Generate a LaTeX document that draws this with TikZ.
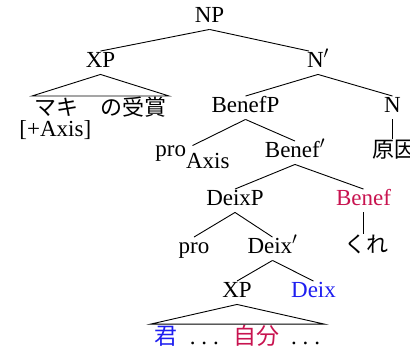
\documentclass[tikz,border=0pt]{standalone}
\usepackage{fontspec}
\setmainfont{Liberation Serif}
\newfontfamily\jafont{Noto Sans CJK JP}
\definecolor{benefred}{RGB}{200,20,80}
\definecolor{deixblue}{RGB}{30,30,240}
\newcommand{\ddd}{.\kern6pt.\kern6pt.}

\begin{document}
\begin{tikzpicture}[x=1pt,y=-1pt,line width=0.9pt,font=\fontsize{23}{27}\selectfont,
  lbl/.style={inner sep=1pt,text height=15.5pt,text depth=5pt,anchor=base},
  ja/.style={inner sep=1pt,anchor=base,font=\fontsize{22}{26}\selectfont\jafont}]

\clip (0,0) rectangle (410,352);

\node[lbl] (np) at (209.5,23) {NP};
\node[lbl] (xpa) at (100.5,68) {XP};
\node[lbl] (nbar) at (318,68) {N$'$};
\node[lbl] (benefp) at (245.5,113) {BenefP};
\node[lbl] (n) at (392.5,113) {N};
\node[ja,inner xsep=2pt] (maki) at (100.5,116) {マキ　の受賞};
\node[lbl,anchor=base west] (axis) at (18,137) {[+Axis]};
\node[lbl,text height=10pt] (proaxis) at (192.5,157) {pro\raisebox{-12pt}{Axis}};
\node[lbl] (benefbar) at (295,158) {Benef$'$};
\node[ja] (gen) at (394,158) {原因};
\node[lbl] (deixp) at (235,206) {DeixP};
\node[lbl,text=benefred] (benef) at (363.5,206) {Benef};
\node[lbl] (pro) at (194,254) {pro};
\node[lbl] (deixbar) at (272.5,254) {Deix$'$};
\node[ja] (kure) at (366,253) {くれ};
\node[lbl] (xpb) at (237,298) {XP};
\node[lbl,text=deixblue] (deix) at (313.5,298) {Deix};
\node[inner xsep=4pt,inner ysep=1pt,anchor=base] (kimi) at (237.5,345)
  {{\jafont\color{deixblue}君}\hspace{12pt}\ddd\hspace{14pt}{\jafont\color{benefred}自分}\hspace{12pt}\ddd};

%Kanten
\draw (np.south) -- (xpa.north);
\draw (np.south) -- ([xshift=-9pt]nbar.north);
\draw (nbar.south) -- (benefp.north);
\draw (nbar.south) -- (n.north);
\draw (n.south) -- (n.south |- gen.north);
\draw (benefp.south) -- (proaxis.north);
\draw (benefp.south) -- (benefbar.north);
\draw (benefbar.south) -- (deixp.north);
\draw (benefbar.south) -- (benef.north);
\draw (benef.south) -- (benef.south |- kure.north);
\draw (deixp.south) -- (pro.north);
\draw (deixp.south) -- (deixbar.north);
\draw (deixbar.south) -- (xpb.north);
\draw (deixbar.south) -- (deix.north);

%Dreiecke
\draw (xpa.south) -- (maki.north west) -- (maki.north east) -- cycle;
\draw (xpb.south) -- (kimi.north west) -- (kimi.north east) -- cycle;

\end{tikzpicture}
\end{document}
